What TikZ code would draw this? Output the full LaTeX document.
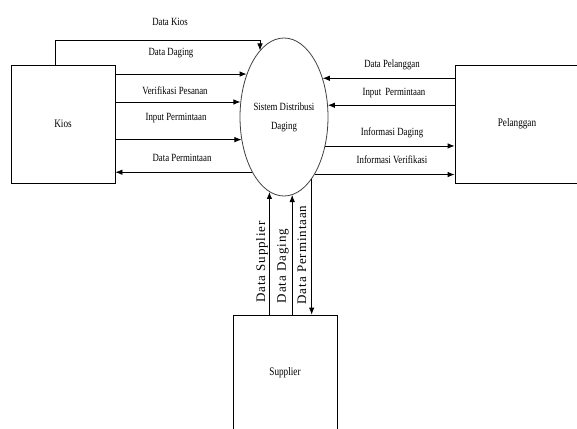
\documentclass[tikz,border=0pt]{standalone}
\usepackage{fontspec}
\setmainfont{Liberation Serif}[FakeStretch=0.8]
\newfontfamily\spacedfont[LetterSpace=7]{Liberation Serif}
\usetikzlibrary{arrows.meta,shapes.geometric}
\begin{document}
\begin{tikzpicture}[x=1pt,y=-1pt,
  flow/.style={-{Latex[length=7pt,width=5.5pt]},line width=0.8pt},
  entity/.style={draw,line width=0.8pt,minimum width=104pt,minimum height=118pt,font=\fontsize{11.5}{13}\selectfont},
  lbl/.style={font=\fontsize{11}{13}\selectfont,inner sep=1pt},
  vlbl/.style={rotate=90,font=\spacedfont\fontsize{13}{14}\selectfont,inner sep=1pt}]
  \useasboundingbox (0,0) rectangle (577,428);
  \clip (0,0) rectangle (577,428);
  % external entities and the process
  \node[entity] (kios) at (63,124) {Kios};
  \node[entity,minimum width=124pt] (pel) at (517,124) {Pelanggan};
  \node[entity,minimum height=116pt] (sup) at (285,373) {Supplier};
  \node[draw,ellipse,draw=black!75,line width=0.8pt,inner sep=0pt,minimum width=88pt,minimum height=158pt,
    align=center,font=\fontsize{11}{19}\selectfont] (sys) at (284,117) {Sistem Distribusi\\Daging};
  % kios
  \coordinate (kiosturn) at (260,40);
  \draw[flow] ([xshift=-8pt]kios.north) |- (kiosturn) -- (kiosturn |- sys.110);
  \draw[flow] (kios.east |- sys.131) -- (sys.131);
  \draw[flow] (kios.east |- sys.161) -- (sys.161);
  \draw[flow] (kios.east |- sys.208) -- (sys.208);
  \draw[flow] (sys.240) -- (kios.east |- sys.240);
  \node[lbl] (kios1) at (170,22) {Data Kios};
  \node[lbl] (kios2) at (171,53) {Data Daging};
  \node[lbl] (kios3) at (175,91) {Verifikasi Pesanan};
  \node[lbl] (kios4) at (176,118) {Input Permintaan};
  \node[lbl] (kios5) at (182,158) {Data Permintaan};
  % pelanggan
  \draw[flow] (pel.west |- sys.45) -- (sys.45);
  \draw[flow] (pel.west |- sys.15) -- (sys.15);
  \draw[flow] (sys.325) -- (pel.west |- sys.325);
  \draw[flow] (sys.298) -- (pel.west |- sys.298);
  \node[lbl] (pel1) at (392,65) {Data Pelanggan};
  \node[lbl] (pel2) at (394,93) {Input\, Permintaan};
  \node[lbl] (pel3) at (392,133) {Informasi Daging};
  \node[lbl] (pel4) at (392,160) {Informasi Verifikasi};
  % supplier
  \draw[flow] (sup.north -| sys.259) -- (sys.259);
  \draw[flow] (sup.north -| sys.276) -- (sys.276);
  \draw[flow] (sys.294) -- (sup.north -| sys.294);
  \node[vlbl] (sup1) at (262,262) {Data Supplier};
  \node[vlbl] (sup2) at (283,266) {Data Daging};
  \node[vlbl] (sup3) at (302,255) {Data Permintaan};
\end{tikzpicture}
\end{document}
